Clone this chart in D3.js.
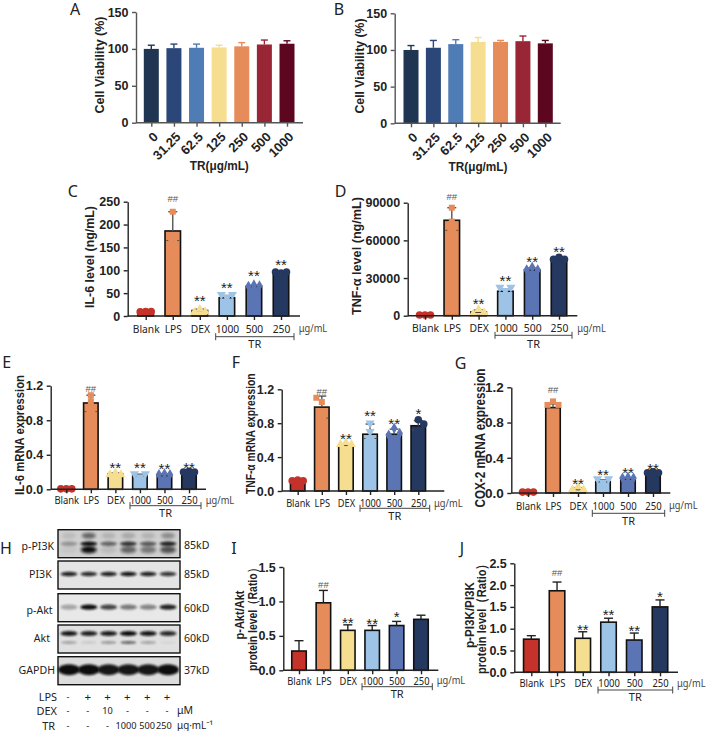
<!DOCTYPE html>
<html><head><meta charset="utf-8">
<style>html,body{margin:0;background:#fff}svg{display:block}</style>
<script src="https://d3js.org/d3.v7.min.js"></script></head><body>
<svg id="c" width="708" height="731"></svg>
<script>
// ---------- DATA ----------
const doses = ["0","31.25","62.5","125","250","500","1000"];
const groups = ["Blank","LPS","DEX","1000","500","250"];
const viabilityA = [100,101,101.5,102,103.5,106,107];
const viabilityAErr = [5,5.5,5,3,5,6,4];
const viabilityB = [100,103,108,111,111,112,109];
const viabilityBErr = [6,10,6,6,2,7,4];
const il6Elisa = [10,186,12,40,65,94];
const il6ElisaErr = [1,42,3,5,2,2];
const il6ElisaPts = [[9,10,10],[165,228,165],[8,15,9],[47,40,47],[65,68,66],[96,94,96]];
const il6ElisaSig = [null,257,37,65,92,116];
const tnfElisa = [600,76000,3000,19500,36500,44500];
const tnfElisaErr = [200,10000,1500,2000,1500,1000];
const tnfElisaPts = [[600,600,600],[68000,86000,68000,75000],[1500,5000,2500],[22500,20000,22500],[36500,38500,36500],[45000,46500,45000]];
const tnfElisaSig = [null,94800,10700,29200,44200,52300];
const il6Mrna = [0.005,1,0.18,0.16,0.16,0.2];
const il6MrnaErr = [0.005,0.09,0.01,0.015,0.02,0.005];
const il6MrnaPts = [[0.005,0.005,0.005],[0.9,1.09,0.9,1.02],[0.17,0.19,0.17],[0.18,0.14,0.18],[0.17,0.18,0.17],[0.2,0.21,0.2]];
const il6MrnaSig = [null,1.17,0.27,0.27,0.255,0.27];
const tnfMrna = [0.11,0.99,0.54,0.67,0.67,0.77];
const tnfMrnaErr = [0.01,0.13,0.01,0.12,0.06,0.06];
const tnfMrnaPts = [[0.12,0.13,0.12],[1.1,1.05,0.86],[0.55,0.57,0.55],[0.62,0.8,0.62,0.7],[0.66,0.74,0.68],[0.72,0.84,0.79]];
const tnfMrnaSig = [null,1.17,0.64,0.905,0.81,0.935];
const cox2Mrna = [0.01,0.97,0.04,0.13,0.16,0.22];
const cox2MrnaErr = [0.005,0.04,0.02,0.02,0.01,0.005];
const cox2MrnaPts = [[0.01,0.01,0.01],[1,1.04,1],[0.04,0.07,0.04],[0.16,0.12,0.16],[0.17,0.18,0.17],[0.23,0.24,0.23]];
const cox2MrnaSig = [null,1.17,0.13,0.227,0.25,0.3];
const pAktRatio = [0.28,0.98,0.58,0.58,0.65,0.74];
const pAktErr = [0.15,0.18,0.08,0.07,0.06,0.06];
const pAktSig = [null,1.24,0.72,0.705,0.8,null];
const pPi3kRatio = [0.76,1.87,0.78,1.15,0.74,1.5];
const pPi3kErr = [0.08,0.2,0.15,0.09,0.16,0.16];
const pPi3kSig = [null,2.3,1.02,1.35,1.0,1.78];
const sigMarks = [null,"##","**","**","**","**"];
const sigMarksF = [null,"##","**","**","**","*"];
const sigMarksI = [null,"##","**","**","*",null];
const sigMarksJ = [null,"##","**","**","**","*"];
const tick150 = [0,50,100,150], tick250 = [0,50,100,150,200,250], tick90k = [0,30000,60000,90000],
      tick12 = [0,0.4,0.8,1.2], tick15 = [0,0.5,1,1.5], tick25 = [0,0.5,1,1.5,2,2.5];
// Western blot band intensity per lane
const lanes = [1,2,3,4,5,6];
const pPi3kMain = [0.3,1,0.55,0.8,0.6,0.9];
const pPi3kLow = [0.05,1,0.1,0.55,0.45,0.65];
const pPi3kUp = [0.1,0.55,0.15,0.2,0.15,0.35];
const pi3kBand = [0.9,0.85,0.9,0.95,0.9,0.8];
const pAktBand = [0.3,1,0.75,0.5,0.45,0.9];
const aktMain = [0.95,0.9,0.92,1,0.95,0.85];
const aktLow = [0.3,0.1,0.35,0.6,0.3,0.05];
const gapdhBand = [1,1,0.95,0.95,0.95,1];
const lpsRow = ["-","+","+","+","+","+"];
const dexRow = ["-","-","10","-","-","-"];
const trRow = ["-","-","-","1000","500","250"];

// ---------- COLOURS ----------
const colA = ["#1f3552","#2b4678","#507cb6","#f6de91","#e58c5a","#992634","#5c0620"];
const colC = ["#c4322a","#e58c5a","#f6de91","#9dc3e6","#5b74b3","#25385f"];
const symbols = [d3.symbolCircle,d3.symbolSquare,d3.symbolTriangle,d3.symbolTriangle,d3.symbolDiamond,d3.symbolCircle];

const svg = d3.select("#c");
const defs = svg.append("defs");
defs.append("filter").attr("id","b1").attr("x","-30%").attr("y","-100%").attr("width","160%").attr("height","300%")
  .append("feGaussianBlur").attr("stdDeviation","1.1 0.8");
defs.append("filter").attr("id","b2").attr("x","-30%").attr("y","-100%").attr("width","160%").attr("height","300%")
  .append("feGaussianBlur").attr("stdDeviation","1.6 1.5");
const sans = "'Liberation Sans',Arial,sans-serif", noto = "'Noto Sans',sans-serif";
const txt = (x,y,s,o={}) => {
  const t = svg.append("text").attr("x",x).attr("y",y).text(s)
  .attr("font-family",o.f||noto).attr("font-size",o.s||11).attr("font-weight",o.w||400)
  .attr("fill",o.c||"#222").attr("text-anchor",o.a||"middle").attr("dominant-baseline","central");
  if(o.len) t.attr("textLength",o.len).attr("lengthAdjust","spacingAndGlyphs");
  if(o.k) t.attr("textLength",t.node().getComputedTextLength()*o.k).attr("lengthAdjust","spacingAndGlyphs");
  return t;
};
const vtxt = (x,y,s,o={}) => txt(x,y,s,o).attr("transform",`rotate(-90,${x},${y})`);

function panel(p){
  const y = d3.scaleLinear().domain([0,p.ticks[p.ticks.length-1]]).range([p.y0,p.y1]);
  const x = d3.scalePoint().domain(p.cats).range([p.c0,p.c1]);
  const g = svg.append("g");
  const stroke = p.stroke;
  g.selectAll("rect").data(p.vals).join("rect")
    .attr("x",(d,i)=>x(p.cats[i])-p.bw/2+(stroke?0.75:0)).attr("width",p.bw-(stroke?1.5:0))
    .attr("y",d=>y(d)).attr("height",d=>p.y0-y(d))
    .attr("fill",(d,i)=>p.cols[i]).attr("stroke",stroke?"#111":"none").attr("stroke-width",1.6);
  const ec = (i)=> p.errColor ? p.errColor : p.cols[i];
  p.vals.forEach((v,i)=>{
    const cx=x(p.cats[i]), t=y(v+p.errs[i]);
    g.append("line").attr("x1",cx).attr("x2",cx).attr("y1",y(v)).attr("y2",t).attr("stroke",ec(i)).attr("stroke-width",1.4);
    g.append("line").attr("x1",cx-p.cap).attr("x2",cx+p.cap).attr("y1",t).attr("y2",t).attr("stroke",ec(i)).attr("stroke-width",1.4);
  });
  if(p.pts) p.pts.forEach((arr,i)=>{
    const sym = d3.symbol().type(symbols[i]).size(i===0||i===5?45:36);
    const jit=[-1,0,1,0];
    arr.forEach((v,k)=>{
      const px=x(p.cats[i])+jit[k]*p.jit, py=y(v);
      if(v<p.vals[i]*0.97 && p.vals[i]>p.ticks[p.ticks.length-1]*0.2){
        g.append("line").attr("x1",px-1).attr("x2",px+1).attr("y1",py).attr("y2",py).attr("stroke","#553").attr("stroke-width",1);
      } else {
        g.append("path").attr("d",sym()).attr("fill",p.cols[i])
         .attr("transform",`translate(${px},${py})`+(i===3?" rotate(180)":""));
      }
    });
  });
  const ay = g.append("g").attr("transform",`translate(${p.ax},0)`)
    .call(d3.axisLeft(y).tickValues(p.ticks).tickSize(4).tickSizeOuter(0).tickFormat(p.fmt||d3.format("d")));
  ay.selectAll("line,path").attr("stroke",p.axc).attr("stroke-width",1.4);
  ay.selectAll("text").attr("font-family",sans).attr("font-weight",700).attr("font-size",p.tickFs||12.5).attr("fill","#222").attr("dx",-0.5);
  const axb = g.append("g").attr("transform",`translate(0,${p.y0})`)
    .call(d3.axisBottom(x).tickSize(4).tickSizeOuter(0));
  axb.select(".domain").remove();
  axb.selectAll("line").attr("stroke",p.axc).attr("stroke-width",1.4);
  g.append("line").attr("x1",p.ax).attr("x2",p.xEnd).attr("y1",p.y0).attr("y2",p.y0).attr("stroke",p.axc).attr("stroke-width",1.5);
  if(p.rot){
    axb.selectAll("text").attr("font-family",sans).attr("font-weight",700).attr("font-size",13).attr("fill","#222")
      .attr("text-anchor","end").attr("dy",0).attr("dx",0)
      .attr("transform","translate(2,10) rotate(-45)");
  } else {
    axb.selectAll("text").attr("font-family",noto).attr("font-size",11.5).attr("fill","#222")
      .attr("dy",0).attr("y",p.catY-p.y0).attr("dominant-baseline","central")
      .each(function(){ d3.select(this).attr("textLength",this.getComputedTextLength()*p.k).attr("lengthAdjust","spacingAndGlyphs"); });
    txt(p.unitX,p.catY,"μg/mL",{a:"start",s:10,c:"#444",len:28.5});
    const by=p.brY;
    g.append("path").attr("d",`M${p.br0},${by-3.5}V${by+3.5}M${p.br0},${by}H${p.br1}M${p.br1},${by-3.5}V${by+3.5}`)
      .attr("fill","none").attr("stroke","#444").attr("stroke-width",1);
    txt((p.br0+p.br1)/2,p.trY,"TR",{s:11});
  }
  if(p.sig) p.sig.forEach((v,i)=>{
    if(v==null) return;
    const m=p.marks[i], isHash=m==="##";
    txt(x(p.cats[i]),y(v)+(isHash?0:1.5),m,{f:sans,s:isHash?9.5:15,c:isHash?"#555":"#222"});
  });
}

const base = {cats:groups,cols:colC,bw:17,cap:4.5,jit:5.5,stroke:true,axc:"#222",errColor:"#555"};
const f1 = d3.format(".1f");
panel({cats:doses,cols:colA,vals:viabilityA,errs:viabilityAErr,ticks:tick150,y0:122.7,y1:12,ax:136,xEnd:303,c0:151.3,c1:287,bw:15,cap:3.5,stroke:false,axc:"#555",rot:true});
panel({cats:doses,cols:colA,vals:viabilityB,errs:viabilityBErr,ticks:tick150,y0:123.3,y1:13.3,ax:394.7,xEnd:560.7,c0:411,c1:545.3,bw:15,cap:3.5,stroke:false,axc:"#555",rot:true});
panel({...base,k:0.89,vals:il6Elisa,errs:il6ElisaErr,pts:il6ElisaPts,sig:il6ElisaSig,marks:sigMarks,ticks:tick250,y0:316,y1:201.7,ax:127.7,xEnd:300,c0:145.7,c1:281,catY:328,unitX:298.7,br0:215.7,br1:294,brY:336.7,trY:343});
panel({...base,k:0.9,vals:tnfElisa,errs:tnfElisaErr,pts:tnfElisaPts,sig:tnfElisaSig,marks:sigMarks,ticks:tick90k,y0:315.7,y1:202.7,ax:407.7,xEnd:577.3,c0:425,c1:559,catY:327.7,unitX:577.3,br0:495,br1:572,brY:335.3,trY:343});
panel({...base,k:0.82,vals:il6Mrna,errs:il6MrnaErr,pts:il6MrnaPts,sig:il6MrnaSig,marks:sigMarks,ticks:tick12,fmt:f1,y0:489.3,y1:385.7,ax:50.7,xEnd:206,c0:66.3,c1:189,bw:16,catY:499.7,unitX:205.7,br0:130,br1:201,brY:505.7,trY:512.7});
panel({...base,k:0.8,vals:tnfMrna,errs:tnfMrnaErr,pts:tnfMrnaPts,sig:tnfMrnaSig,marks:sigMarksF,ticks:tick12,fmt:f1,y0:491,y1:389.3,ax:281.7,xEnd:444.3,c0:297.7,c1:418.3,bw:16,catY:502.7,unitX:434,br0:360,br1:429.7,brY:508.3,trY:515});
panel({...base,k:0.83,vals:cox2Mrna,errs:cox2MrnaErr,pts:cox2MrnaPts,sig:cox2MrnaSig,marks:sigMarks,ticks:tick12,fmt:f1,tickFs:13.5,y0:493,y1:387.3,ax:511.3,xEnd:670.3,c0:528,c1:653,bw:16,catY:505.3,unitX:669,br0:592.3,br1:664.7,brY:513.3,trY:520});
panel({...base,k:0.81,errColor:"#222",vals:pAktRatio,errs:pAktErr,sig:pAktSig,marks:sigMarksI,ticks:tick15,fmt:f1,y0:670.3,y1:567,ax:283.3,xEnd:438.3,c0:299,c1:421,bw:16,catY:680.3,unitX:436.7,br0:362,br1:432.3,brY:686.7,trY:693.3});
panel({...base,k:0.82,errColor:"#222",vals:pPi3kRatio,errs:pPi3kErr,sig:pPi3kSig,marks:sigMarksJ,ticks:tick25,fmt:f1,y0:672.3,y1:563.3,ax:514.3,xEnd:678,c0:531.3,c1:660,bw:17,catY:683,unitX:677,br0:598,br1:672.7,brY:690,trY:696.7});

// axis titles
const tb={f:sans,w:700,s:13,c:"#222"};
vtxt(99.3,65,"Cell Viability (%)",{...tb,s:13.5,len:97});
vtxt(359.7,66,"Cell Viability (%)",{...tb,s:13.5,len:95});
txt(219.3,165.7,"TR(μg/mL)",{...tb,len:59});
txt(478,166.7,"TR(μg/mL)",{...tb,len:59});
vtxt(89.3,257,"IL-6 level (ng/mL)",{...tb,s:13.5,len:102});
vtxt(356,256,"TNF-α level (ng/mL)",{...tb,s:13.5,len:118});
vtxt(19,435,"IL-6 mRNA expression",{...tb,s:13,len:120});
vtxt(250.7,433.7,"TNF-α mRNA expression",{...tb,s:13,len:120.7});
vtxt(479.7,438,"COX-2 mRNA expression",{...tb,s:14.5,len:139});
vtxt(239,615,"p-Akt/Akt",{...tb,len:49});
vtxt(252.3,617,"protein level（Ratio）",{...tb,len:108});
vtxt(469,615,"p-PI3K/PI3K",{...tb,len:66});
vtxt(481.3,616,"protein level（Ratio）",{...tb,s:13.5,len:116});

// panel letters
[["A",75,9],["B",339,9],["C",72.7,191],["D",340.7,191],["E",6.7,362],["F",236,362],["G",460.7,363],["H",6,547.7],["I",234,547.7],["J",462,548]]
 .forEach(d=>txt(d[1],d[2],d[0],{s:16,c:"#222"}));

// western blots
const laneX = d3.scalePoint().domain(lanes).range([69,168]);
const op = d3.scaleLinear().domain([0,1]).range([0,1]);
const rows = [
 {label:"p-PI3K",kd:"85kD",top:529.7,lab:545,kdY:544,right:54,bg:"#cfcfcf",
  bands:[{v:pPi3kMain,dy:14,h:2.2,r:8.5,fl:"b1"},{v:pPi3kLow,dy:20,h:3.6,r:8,fl:"b2"},{v:pPi3kUp,dy:6,h:3,r:7,fl:"b2"}]},
 {label:"PI3K",kd:"85kD",top:561,lab:573,kdY:573,right:51.7,bg:"#e4e4e4",
  bands:[{v:pi3kBand,dy:13,h:2.2,r:8.5,fl:"b1"}]},
 {label:"p-Akt",kd:"60kD",top:593.7,lab:609,kdY:607,right:52.7,bg:"#e8e8e8",
  bands:[{v:pAktBand,dy:13.5,h:2.6,r:8.5,fl:"b1"}]},
 {label:"Akt",kd:"60kD",top:625,lab:637.7,kdY:637.7,right:50,bg:"#e0e0e0",
  bands:[{v:aktMain,dy:8.5,h:2.6,r:8.5,fl:"b1"},{v:aktLow,dy:17.5,h:1.4,r:8,fl:"b1"}]},
 {label:"GAPDH",kd:"37kD",top:656.7,lab:669,kdY:669,right:55,bg:"#dcdcdc",
  bands:[{v:gapdhBand,dy:13,h:5.5,r:11,fl:"b1"}]}
];
rows.forEach(r=>{
  svg.append("rect").attr("x",58).attr("y",r.top).attr("width",122).attr("height",28).attr("fill",r.bg);
  const g=svg.append("g");
  r.bands.forEach(b=>{
    g.selectAll(null).data(b.v).join("ellipse")
      .attr("cx",(d,i)=>laneX(lanes[i])).attr("cy",r.top+b.dy).attr("rx",b.r).attr("ry",b.h)
      .attr("fill","#0c0c0c").attr("opacity",d=>op(d)).attr("filter",`url(#${b.fl})`);
  });
  svg.append("rect").attr("x",58).attr("y",r.top).attr("width",122).attr("height",28).attr("fill","none").attr("stroke","#111").attr("stroke-width",1.4);
  txt(r.right,r.lab,r.label,{a:"end",s:11.5,k:0.92});
  txt(184,r.kdY,r.kd,{a:"start",s:11.5,k:0.92});
});
const treatX = d3.scalePoint().domain(lanes).range([68,167]);
[["LPS",696.7,lpsRow,57],["DEX",710,dexRow,57],["TR",725,trRow,55]].forEach(([n,yy,row,rt])=>{
  txt(rt,yy,n,{a:"end",s:11.5,k:0.95});
  row.forEach((s,i)=>txt(treatX(lanes[i])-(s==="250"?3:s==="1000"?1.5:0),yy,s,{s:s==="+"?11.5:9.2}));
});
txt(177,710,"μM",{a:"start",s:10.5});
txt(177,725,"μg·mL⁻¹",{a:"start",s:10.5,len:36});
</script></body></html>
